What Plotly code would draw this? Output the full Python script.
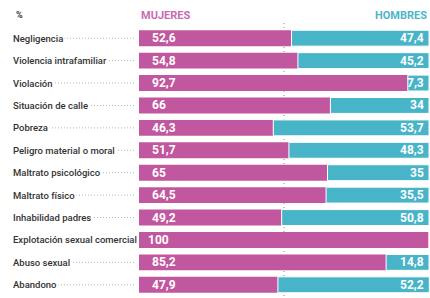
import plotly.graph_objects as go

categories = ["Negligencia", "Violencia intrafamiliar", "Violación", "Situación de calle",
              "Pobreza", "Peligro material o moral", "Maltrato psicológico", "Maltrato físico",
              "Inhabilidad padres", "Explotación sexual comercial", "Abuso sexual", "Abandono"]
mujeres = [52.6, 54.8, 92.7, 66, 46.3, 51.7, 65, 64.5, 49.2, 100, 85.2, 47.9]
hombres = [47.4, 45.2, 7.3, 34, 53.7, 48.3, 35, 35.5, 50.8, 0, 14.8, 52.2]

PINK = "#c1579e"
TEAL = "#48b4c8"
FONT = "Roboto, Liberation Sans, sans-serif"

def fmt(v):
    s = ("%g" % v)
    return s.replace(".", ",")

fig = go.Figure()
fig.add_trace(go.Bar(y=categories, x=mujeres, orientation="h", name="MUJERES",
                     marker=dict(color=PINK, line=dict(width=0)), hoverinfo="skip"))
fig.add_trace(go.Bar(y=categories, x=hombres, orientation="h", name="HOMBRES", base=mujeres,
                     marker=dict(color=TEAL, line=dict(color="white", width=1)), hoverinfo="skip"))

L = 139
W = 290
shapes = [dict(type="line", xref="x", yref="paper", x0=50, x1=50, y0=0, y1=1.02,
               line=dict(color="#8a8a8a", width=1, dash="1px,3px"), layer="below")]
annotations = []
for c, m, h in zip(categories, mujeres, hombres):
    shapes.append(dict(type="line", xref="paper", yref="y", x0=(16 - L) / W, x1=(135 - L) / W,
                       y0=c, y1=c, line=dict(color="#b4b4b4", width=1, dash="1px,2px")))
    annotations.append(dict(xref="paper", yref="y", x=0, y=c, xanchor="left", yanchor="middle",
                            xshift=12 - L - 1, text=c, showarrow=False, bgcolor="white", borderpad=1,
                            font=dict(family=FONT, size=9.5, color="#333333", weight=500)))
    annotations.append(dict(xref="x", yref="y", x=0, y=c, xanchor="left", yanchor="middle",
                            xshift=11 if m < 100 else 7, text="<b>%s</b>" % fmt(m), showarrow=False,
                            font=dict(family=FONT, size=12, color="white")))
    if h > 0:
        annotations.append(dict(xref="x", yref="y", x=100, y=c, xanchor="right", yanchor="middle",
                                xshift=-3, text="<b>%s</b>" % fmt(h), showarrow=False,
                                font=dict(family=FONT, size=12, color="white")))

annotations.append(dict(xref="paper", yref="paper", x=0, y=1, xshift=14 - L, yshift=12,
                        xanchor="left", yanchor="middle", text="<b>%</b>", showarrow=False,
                        font=dict(family=FONT, size=9, color="#333333")))
annotations.append(dict(xref="paper", yref="paper", x=0, y=1, yshift=12,
                        xanchor="left", yanchor="middle", text="<b>MUJERES</b>", showarrow=False,
                        font=dict(family=FONT, size=11, color="#c76db0")))
annotations.append(dict(xref="paper", yref="paper", x=1, y=1, yshift=12,
                        xanchor="right", yanchor="middle", text="<b>HOMBRES</b>", showarrow=False,
                        font=dict(family=FONT, size=11, color="#4fb5c9")))

fig.update_layout(
    width=430, height=298, barmode="overlay", bargap=0.29,
    margin=dict(l=L, r=1, t=27, b=2),
    plot_bgcolor="white", paper_bgcolor="white", showlegend=False,
    xaxis=dict(range=[0, 100], visible=False, fixedrange=True),
    yaxis=dict(autorange="reversed", visible=False, categoryorder="array", categoryarray=categories),
    shapes=shapes, annotations=annotations,
)
fig.write_html("out.html", config={"displayModeBar": False},
               post_script="document.body.style.margin='0px';document.body.style.padding='0px';document.body.style.overflow='hidden';")
